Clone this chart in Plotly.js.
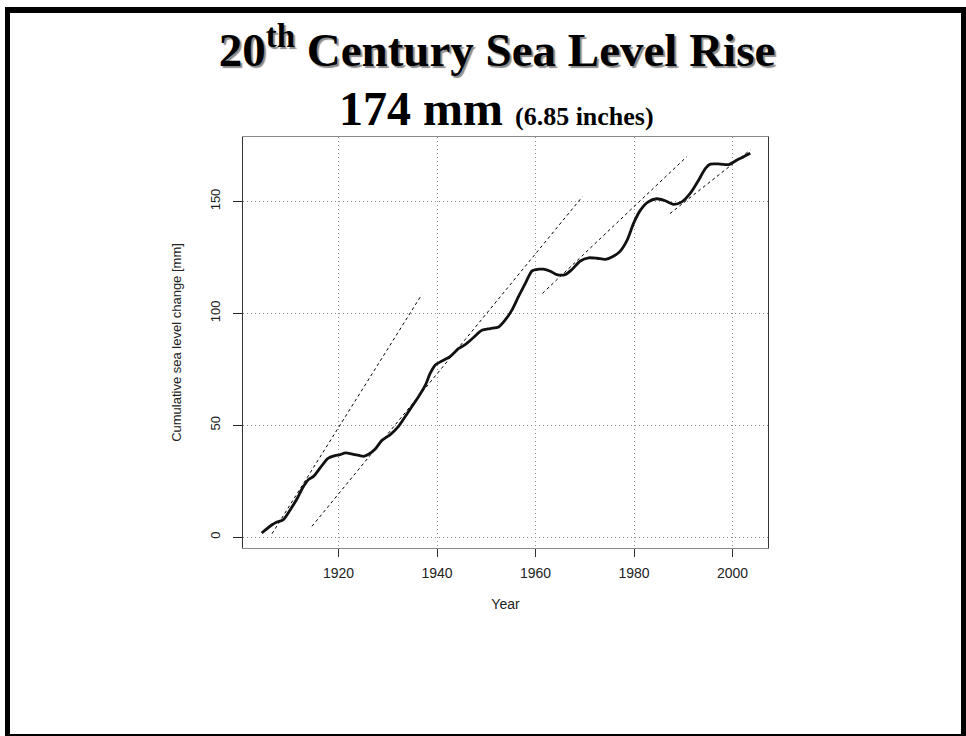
<!DOCTYPE html>
<html>
<head>
<meta charset="utf-8">
<script src="https://cdn.plot.ly/plotly-3.0.1.min.js"></script>
<style>
html,body{margin:0;padding:0;background:#fff;}
#chart{position:absolute;left:0;top:0;width:966px;height:736px;}
#frame{position:absolute;left:5px;top:7px;width:961px;height:729px;box-sizing:border-box;border-style:solid;border-color:#000;border-width:6px 5px 2px 5px;pointer-events:none;z-index:10;}
</style>
</head>
<body>
<div id="chart"></div>
<div id="frame"></div>
<script>
// Cumulative sea level change [mm]
const years = [1904.4, 1906.5, 1907.5, 1908.8, 1910.2, 1911.6, 1912.6, 1913.9, 1914.9, 1916.3,
  1917.8, 1919.3, 1920.3, 1921.4, 1923.0, 1925.1, 1926.1, 1927.5, 1928.8, 1930.5,
  1932.0, 1934.6, 1936.2, 1937.6, 1938.6, 1939.6, 1941.0, 1942.7, 1944.4, 1945.7,
  1947.4, 1949.1, 1950.8, 1952.5, 1953.8, 1955.2, 1956.5, 1957.9, 1959.3, 1960.6,
  1961.6, 1963.0, 1964.3, 1966.0, 1967.4, 1969.1, 1970.8, 1972.5, 1974.2, 1975.8,
  1977.2, 1978.6, 1979.9, 1981.3, 1982.8, 1984.6, 1986.2, 1988.0, 1989.7, 1991.4,
  1993.1, 1994.5, 1995.5, 1997.5, 1999.2, 2000.9, 2002.2, 2003.6];
const seaLevel = [1.8, 5.5, 6.7, 7.8, 12.2, 17.2, 21.6, 25.7, 27.1, 31.0,
  35.1, 36.4, 36.8, 37.6, 37.0, 36.1, 37.0, 39.5, 43.2, 45.8,
  49.0, 57.4, 62.6, 67.8, 73.1, 76.8, 78.7, 80.8, 84.3, 86.0,
  89.2, 92.4, 93.2, 93.9, 96.9, 101.4, 107.3, 113.3, 119.0, 119.7,
  119.7, 118.8, 117.3, 117.3, 119.6, 123.4, 124.8, 124.6, 124.1, 125.5,
  127.8, 132.7, 140.2, 146.1, 149.7, 151.2, 150.4, 148.7, 149.8, 153.6,
  159.5, 164.8, 166.7, 166.7, 166.5, 168.5, 169.9, 171.5];

// Dashed trend segments
const trend1Years = [1906.5, 1936.9], trend1Values = [1.5, 108.4];
const trend2Years = [1914.6, 1969.5], trend2Values = [4.8, 152.1];
const trend3Years = [1961.4, 1990.7], trend3Values = [108.9, 170.0];
const trend4Years = [1987.3, 2003.6], trend4Values = [144.6, 173.0];

const xTickVals = [1920, 1940, 1960, 1980, 2000];
const yTickVals = [0, 50, 100, 150];

const titleText = '20<sup>th</sup> Century Sea Level Rise';
const subtitleMain = '174 mm';
const subtitleSmall = '(6.85 inches)';
const xTitle = 'Year';
const yTitle = 'Cumulative sea level change [mm]';

const sans = 'Liberation Sans, Arial, Helvetica, sans-serif';
const serif = 'Liberation Serif, Times New Roman, serif';

const trendStyle = {color: '#000', width: 1, dash: '3px,3px'};
function trend(xs, ys) {
  return {x: xs, y: ys, type: 'scatter', mode: 'lines', line: trendStyle, hoverinfo: 'skip', showlegend: false};
}

const data = [
  trend(trend1Years, trend1Values),
  trend(trend2Years, trend2Values),
  trend(trend3Years, trend3Values),
  trend(trend4Years, trend4Values),
  {x: years, y: seaLevel, type: 'scatter', mode: 'lines',
   line: {color: '#111', width: 2.8, shape: 'spline', smoothing: 0.7}, showlegend: false}
];

const layout = {
  width: 966, height: 736,
  margin: {l: 243, r: 198, t: 137, b: 188},
  paper_bgcolor: '#fff', plot_bgcolor: '#fff',
  showlegend: false,
  title: {
    text: titleText,
    font: {family: serif, size: 47, weight: 'bold', color: '#000', shadow: '2px 2px 1px #8a8a8a'},
    x: 0.5145, xanchor: 'center', xref: 'container',
    y: 0.932, yanchor: 'middle', yref: 'container'
  },
  annotations: [{
    text: '<b>' + subtitleMain + ' <span style="font-size:26px">' + subtitleSmall + '</span></b>',
    font: {family: serif, size: 48, color: '#000'},
    xref: 'paper', yref: 'paper', x: 0.4838, y: 1.07,
    xanchor: 'center', yanchor: 'middle', showarrow: false
  }],
  xaxis: {
    range: [1900.6, 2007.2],
    tickvals: xTickVals, ticktext: xTickVals.map(String),
    ticks: 'outside', ticklen: 8, tickwidth: 1, tickcolor: '#333',
    showline: true, linecolor: '#8a8a8a', linewidth: 1.2, mirror: true,
    showgrid: true, gridcolor: '#8c8c8c', gridwidth: 1, griddash: '1px,3px',
    zeroline: false,
    tickfont: {family: sans, size: 14, color: '#222'},
    ticklabelstandoff: 4,
    title: {text: xTitle, font: {family: sans, size: 14, color: '#222'}, standoff: 19},
    automargin: false
  },
  yaxis: {
    range: [-4.9, 178.8],
    tickvals: yTickVals, ticktext: yTickVals.map(String),
    tickangle: -90,
    ticks: 'outside', ticklen: 9, tickwidth: 1, tickcolor: '#222',
    showline: true, linecolor: '#333', linewidth: 1.3, mirror: true,
    showgrid: true, gridcolor: '#8c8c8c', gridwidth: 1, griddash: '1px,3px',
    zeroline: false,
    tickfont: {family: sans, size: 13, color: '#222'},
    ticklabelstandoff: 8,
    title: {text: yTitle, font: {family: sans, size: 13, color: '#222'}, standoff: 23},
    automargin: false
  }
};

Plotly.newPlot('chart', data, layout, {displayModeBar: false, staticPlot: true});
</script>
</body>
</html>
